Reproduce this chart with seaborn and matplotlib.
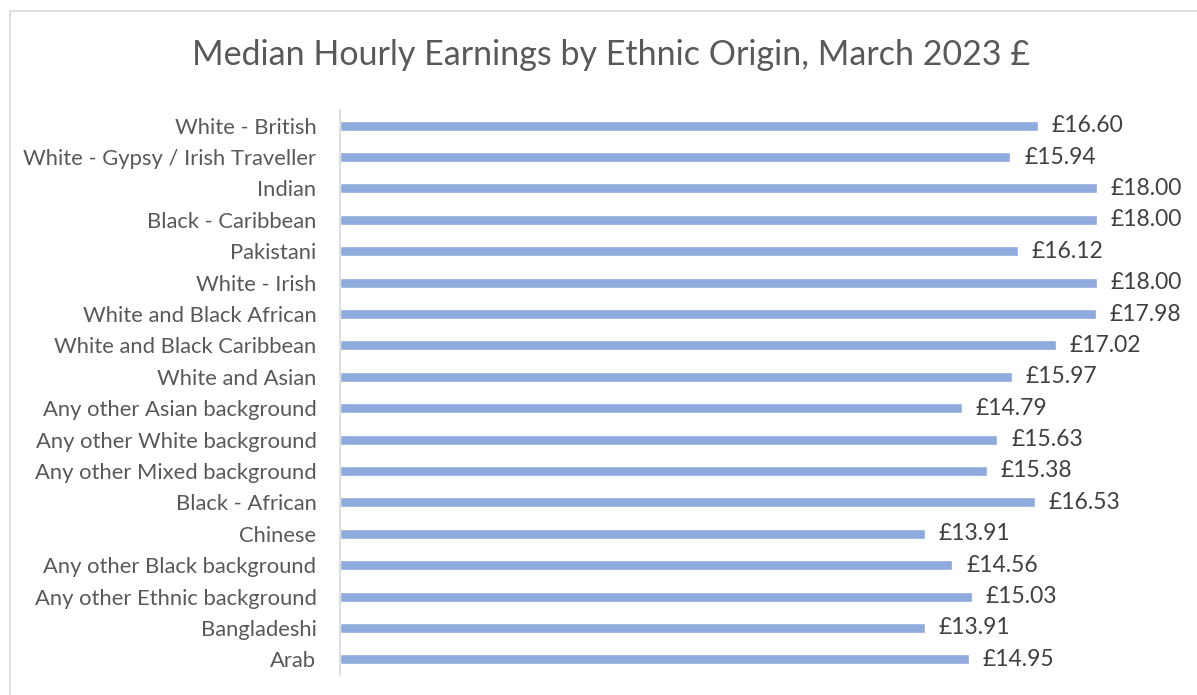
import numpy as np
import pandas as pd
import matplotlib.pyplot as plt
import seaborn as sns
from matplotlib.patches import Rectangle

sns.set_theme(style="white")
plt.rcParams['font.family'] = ['Lato', 'DejaVu Sans']

# Data
groups = ["White - British", "White - Gypsy / Irish Traveller", "Indian",
          "Black - Caribbean", "Pakistani", "White - Irish",
          "White and Black African", "White and Black Caribbean",
          "White and Asian", "Any other Asian background",
          "Any other White background", "Any other Mixed background",
          "Black - African", "Chinese", "Any other Black background",
          "Any other Ethnic background", "Bangladeshi", "Arab"]
earnings = [16.60, 15.94, 18.00, 18.00, 16.12, 18.00, 17.98, 17.02, 15.97,
            14.79, 15.63, 15.38, 16.53, 13.91, 14.56, 15.03, 13.91, 14.95]

df = pd.DataFrame({"group": groups, "earnings": earnings})

fig = plt.figure(figsize=(11.97, 6.95), dpi=100)
ax = fig.add_axes([340 / 1197, 1 - 675 / 695, (1181 - 340) / 1197, 565 / 695])

sns.barplot(data=df, y="group", x="earnings", color="#8FAADC",
            width=0.32, saturation=1, ax=ax)

ax.set_xlim(0, 20)
ax.set_ylim(len(groups) - 0.5, -0.5)
ax.set_xticks([])
ax.set_xlabel("")
ax.set_ylabel("")
ax.tick_params(axis="y", length=0, pad=17, labelsize=15.8, labelcolor="#595959")

for s in ["top", "right", "bottom"]:
    ax.spines[s].set_visible(False)
ax.spines["left"].set_color("#D9D9D9")
ax.spines["left"].set_linewidth(1.2)

for i, v in enumerate(earnings):
    ax.text(v + 0.33, i, f"£{v:.2f}", va="center", ha="left",
            fontsize=16.5, color="#404040")

fig.text(611.5 / 1197, 1 - 55 / 695, "Median Hourly Earnings by Ethnic Origin, March 2023 £",
         ha="center", va="center", fontsize=24.5, color="#595959")

# chart border
fig.patches.append(Rectangle((10 / 1197, -0.1), 1.2, 1 - 11 / 695 + 0.1,
                             transform=fig.transFigure, fill=False,
                             edgecolor="#D9D9D9", linewidth=1.2))

fig.savefig("out.png", dpi=100)
